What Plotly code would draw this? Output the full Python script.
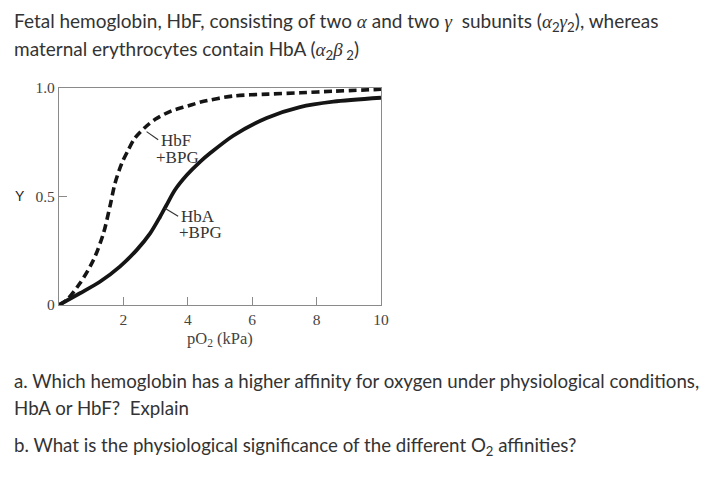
import plotly.graph_objects as go

# ---- data ----
hbf_x = [0, 0.24, 0.65, 1.07, 1.38, 1.58, 1.74, 1.95, 2.15, 2.36, 2.72, 3.0, 3.5, 4.0, 4.4, 5.4, 6.5, 7.5, 8.5, 10]
hbf_y = [0, 0.023, 0.10, 0.207, 0.33, 0.453, 0.561, 0.653, 0.714, 0.77, 0.825, 0.857, 0.895, 0.917, 0.935, 0.963, 0.972, 0.978, 0.985, 0.994]

hba_x = [0, 0.65, 1.27, 1.89, 2.41, 2.83, 3.14, 3.34, 3.60, 3.97, 4.38, 4.69, 5.41, 6.45, 7.48, 8.52, 10]
hba_y = [0, 0.054, 0.107, 0.177, 0.253, 0.33, 0.407, 0.461, 0.53, 0.599, 0.66, 0.699, 0.78, 0.862, 0.912, 0.937, 0.955]

x_ticks = [2, 4, 6, 8, 10]
x_tick_labels = ["2", "4", "6", "8", "10"]
y_ticks = [0, 0.5, 1.0]
y_tick_labels = ["0", "0.5", "1.0"]

# label positions (data coords) and leader lines
hbf_label = {"lines": ["HbF", "+BPG"], "x": [3.62, 3.68], "y": [0.76, 0.681]}
hba_label = {"lines": ["HbA", "+BPG"], "x": [4.33, 4.38], "y": [0.41, 0.332]}
hbf_leader = {"x": [2.72, 3.08], "y": [0.799, 0.762]}
hba_leader = {"x": [3.29, 3.70], "y": [0.446, 0.409]}

OFF = 8  # page body margin
W, H = 712 - OFF, 484 - OFF
L, R, T, B = 59, 381, 88, 305  # plot area in reference pixels


def px(xp):
    return (xp - L) / (R - L)


def py(yp):
    return (B - yp) / (B - T)


fig = go.Figure()

fig.add_trace(go.Scatter(
    x=hbf_x, y=hbf_y, mode="lines",
    line=dict(color="#151515", width=3.6, dash="8px,4.5px", shape="spline", smoothing=0.8),
    showlegend=False, hoverinfo="skip"))
fig.add_trace(go.Scatter(
    x=hba_x, y=hba_y, mode="lines",
    line=dict(color="#151515", width=3.8, shape="spline", smoothing=0.8),
    showlegend=False, hoverinfo="skip"))

# leader lines
for ld in (hbf_leader, hba_leader):
    fig.add_trace(go.Scatter(x=ld["x"], y=ld["y"], mode="lines",
                             line=dict(color="#333", width=1.2),
                             showlegend=False, hoverinfo="skip"))

serif = "Liberation Serif"
sans = "Lato"
annotations = []
for lab in (hbf_label, hba_label):
    for t, xx, yy in zip(lab["lines"], lab["x"], lab["y"]):
        annotations.append(dict(x=xx, y=yy, xref="x", yref="y", text=t, showarrow=False,
                                xanchor="center", yanchor="middle",
                                font=dict(family=serif, size=17, color="#333")))

# Y axis letter
annotations.append(dict(x=px(20), y=py(196), xref="paper", yref="paper", text="Y",
                        showarrow=False, xanchor="center", yanchor="middle",
                        font=dict(family="Liberation Sans", size=14, color="#222")))
# x-axis title
annotations.append(dict(x=px(220), y=py(339), xref="paper", yref="paper",
                        text="pO<sub>2</sub> (kPa)", showarrow=False,
                        xanchor="center", yanchor="middle",
                        font=dict(family=serif, size=16.5, color="#444")))

gk = "font-family:'Liberation Serif';font-style:italic"
hdr1 = ("Fetal hemoglobin, HbF, consisting of two <span style=\"%s\">α</span> and two "
        "<span style=\"%s\">γ</span>  subunits (<span style=\"%s\">α</span><sub>2</sub>"
        "<span style=\"%s\">γ</span><sub>2</sub>), whereas") % (gk, gk, gk, gk)
hdr2 = ("maternal erythrocytes contain HbA (<span style=\"%s\">α</span><sub>2</sub>"
        "<span style=\"%s\">β</span><sub> 2</sub>)") % (gk, gk)
q1 = "a. Which hemoglobin has a higher affinity for oxygen under physiological conditions,"
q2 = "HbA or HbF?  Explain"
q3 = "b. What is the physiological significance of the different O<sub>2</sub> affinities?"

for t, yy, fs in ((hdr1, 22, 19), (hdr2, 50, 19), (q1, 381, 18.7), (q2, 408, 18.7), (q3, 446, 18.7)):
    annotations.append(dict(x=px(12), y=py(yy), xref="paper", yref="paper", text=t,
                            showarrow=False, xanchor="left", yanchor="middle",
                            font=dict(family=sans, size=fs, color="#333")))

axis_common = dict(showline=True, linecolor="#8a8a8a", linewidth=1.2, mirror=True,
                   showgrid=False, zeroline=False, ticks="inside", ticklen=8,
                   tickcolor="#8a8a8a", tickwidth=1.2,
                   tickfont=dict(family=serif, size=15.5, color="#444"))

fig.update_layout(
    width=W, height=H, autosize=False,
    margin=dict(l=L - OFF, r=712 - R, t=T - OFF, b=484 - B, pad=0),
    paper_bgcolor="white", plot_bgcolor="white",
    xaxis=dict(range=[0, 10], tickvals=x_ticks, ticktext=x_tick_labels, **axis_common),
    yaxis=dict(range=[0, 1.0], tickvals=y_ticks, ticktext=y_tick_labels, **axis_common),
    annotations=annotations,
)

fig.write_html("out.html")
